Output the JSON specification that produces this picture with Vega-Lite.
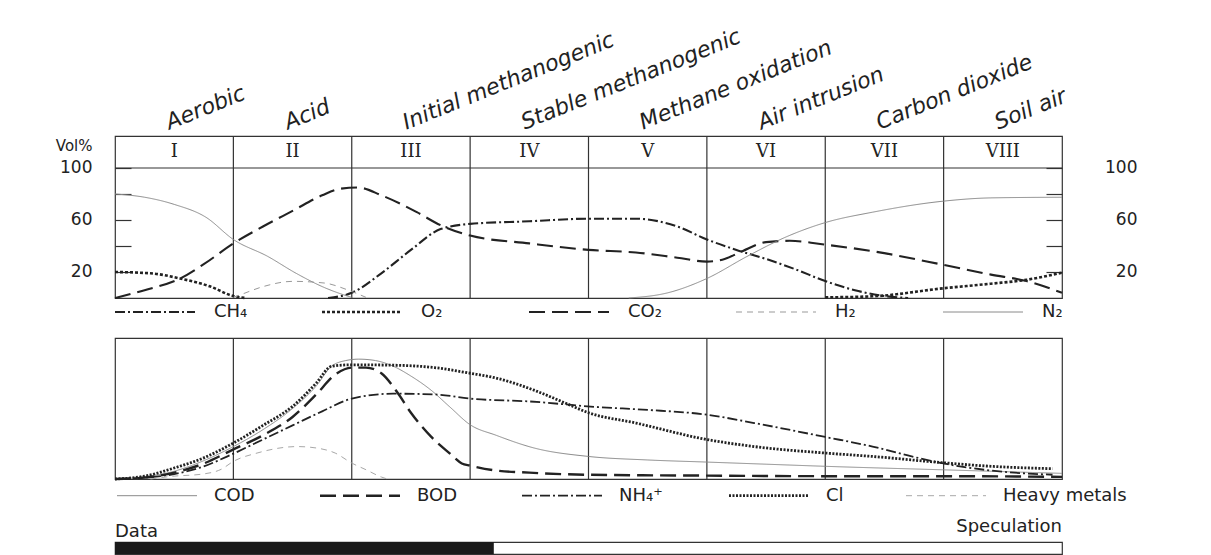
{
  "$schema": "https://vega.github.io/schema/vega-lite/v6.json",
  "padding": {"left": 54, "top": 24, "right": 8, "bottom": 0},
  "background": "white",
  "bounds": "flush",
  "spacing": 40,
  "config": {
    "font": "DejaVu Sans",
    "view": {"stroke": "#333", "strokeWidth": 1.2},
    "legend": {"padding": 0}
  },
  "datasets": {
    "phases": [
      {"num": "I", "name": "Aerobic", "c": 0.5},
      {"num": "II", "name": "Acid", "c": 1.5},
      {"num": "III", "name": "Initial methanogenic", "c": 2.5},
      {"num": "IV", "name": "Stable methanogenic", "c": 3.5},
      {"num": "V", "name": "Methane oxidation", "c": 4.5},
      {"num": "VI", "name": "Air intrusion", "c": 5.5},
      {"num": "VII", "name": "Carbon dioxide", "c": 6.5},
      {"num": "VIII", "name": "Soil air", "c": 7.5}
    ],
    "bounds": [{"t": 1}, {"t": 2}, {"t": 3}, {"t": 4}, {"t": 5}, {"t": 6}, {"t": 7}],
    "bar": [
      {"seg": "Data", "x0": 0, "x1": 3.2},
      {"seg": "Speculation", "x0": 3.2, "x1": 8}
    ],
    "gas": [
      {"gas": "CH₄", "t": 1.8, "v": 0}, {"gas": "CH₄", "t": 2.0, "v": 4}, {"gas": "CH₄", "t": 2.25, "v": 19}, {"gas": "CH₄", "t": 2.5, "v": 37}, {"gas": "CH₄", "t": 2.75, "v": 53}, {"gas": "CH₄", "t": 3.0, "v": 57}, {"gas": "CH₄", "t": 3.5, "v": 59}, {"gas": "CH₄", "t": 4.0, "v": 61}, {"gas": "CH₄", "t": 4.4, "v": 61}, {"gas": "CH₄", "t": 4.75, "v": 55}, {"gas": "CH₄", "t": 5.0, "v": 45}, {"gas": "CH₄", "t": 5.25, "v": 37}, {"gas": "CH₄", "t": 5.5, "v": 30}, {"gas": "CH₄", "t": 5.75, "v": 22}, {"gas": "CH₄", "t": 6.0, "v": 13}, {"gas": "CH₄", "t": 6.25, "v": 6}, {"gas": "CH₄", "t": 6.5, "v": 1.5}, {"gas": "CH₄", "t": 6.7, "v": 0},
      {"gas": "O₂", "t": 0, "v": 20}, {"gas": "O₂", "t": 0.3, "v": 19}, {"gas": "O₂", "t": 0.55, "v": 15}, {"gas": "O₂", "t": 0.8, "v": 9}, {"gas": "O₂", "t": 1.0, "v": 1.5}, {"gas": "O₂", "t": 1.1, "v": 0}, {"gas": "O₂", "t": 3.5, "v": null}, {"gas": "O₂", "t": 6.0, "v": 0.5}, {"gas": "O₂", "t": 6.4, "v": 1.3}, {"gas": "O₂", "t": 7.0, "v": 7.5}, {"gas": "O₂", "t": 7.4, "v": 11}, {"gas": "O₂", "t": 7.7, "v": 14}, {"gas": "O₂", "t": 8.0, "v": 19.5},
      {"gas": "CO₂", "t": 0, "v": 0}, {"gas": "CO₂", "t": 0.25, "v": 6}, {"gas": "CO₂", "t": 0.55, "v": 15}, {"gas": "CO₂", "t": 0.75, "v": 26}, {"gas": "CO₂", "t": 1.0, "v": 42}, {"gas": "CO₂", "t": 1.25, "v": 55}, {"gas": "CO₂", "t": 1.5, "v": 67}, {"gas": "CO₂", "t": 1.75, "v": 79}, {"gas": "CO₂", "t": 1.9, "v": 84}, {"gas": "CO₂", "t": 2.05, "v": 85}, {"gas": "CO₂", "t": 2.25, "v": 79}, {"gas": "CO₂", "t": 2.55, "v": 66}, {"gas": "CO₂", "t": 2.75, "v": 56}, {"gas": "CO₂", "t": 3.0, "v": 48}, {"gas": "CO₂", "t": 3.5, "v": 42}, {"gas": "CO₂", "t": 4.0, "v": 37}, {"gas": "CO₂", "t": 4.4, "v": 35}, {"gas": "CO₂", "t": 4.75, "v": 31}, {"gas": "CO₂", "t": 5.0, "v": 28}, {"gas": "CO₂", "t": 5.15, "v": 30}, {"gas": "CO₂", "t": 5.3, "v": 36}, {"gas": "CO₂", "t": 5.5, "v": 43}, {"gas": "CO₂", "t": 5.7, "v": 44}, {"gas": "CO₂", "t": 6.0, "v": 41}, {"gas": "CO₂", "t": 6.4, "v": 36}, {"gas": "CO₂", "t": 7.0, "v": 25.5}, {"gas": "CO₂", "t": 7.4, "v": 18}, {"gas": "CO₂", "t": 7.7, "v": 13}, {"gas": "CO₂", "t": 8.0, "v": 4},
      {"gas": "H₂", "t": 1.0, "v": 0.5}, {"gas": "H₂", "t": 1.06, "v": 2.5}, {"gas": "H₂", "t": 1.26, "v": 9}, {"gas": "H₂", "t": 1.5, "v": 12.8}, {"gas": "H₂", "t": 1.77, "v": 11.5}, {"gas": "H₂", "t": 1.96, "v": 6.4}, {"gas": "H₂", "t": 2.12, "v": 0.5},
      {"gas": "N₂", "t": 0, "v": 80}, {"gas": "N₂", "t": 0.25, "v": 77.5}, {"gas": "N₂", "t": 0.5, "v": 72}, {"gas": "N₂", "t": 0.77, "v": 62}, {"gas": "N₂", "t": 1.0, "v": 45}, {"gas": "N₂", "t": 1.29, "v": 32}, {"gas": "N₂", "t": 1.53, "v": 19}, {"gas": "N₂", "t": 1.77, "v": 8}, {"gas": "N₂", "t": 1.93, "v": 2.5}, {"gas": "N₂", "t": 2.0, "v": 0.5}, {"gas": "N₂", "t": 3.0, "v": null}, {"gas": "N₂", "t": 4.34, "v": 0}, {"gas": "N₂", "t": 4.67, "v": 4}, {"gas": "N₂", "t": 5.0, "v": 15}, {"gas": "N₂", "t": 5.34, "v": 32}, {"gas": "N₂", "t": 5.67, "v": 47}, {"gas": "N₂", "t": 6.0, "v": 58}, {"gas": "N₂", "t": 6.4, "v": 66}, {"gas": "N₂", "t": 7.0, "v": 74.5}, {"gas": "N₂", "t": 7.4, "v": 77}, {"gas": "N₂", "t": 8.0, "v": 77.5}
    ],
    "leach": [
      {"p": "COD", "t": 0, "v": 0}, {"p": "COD", "t": 0.25, "v": 1.5}, {"p": "COD", "t": 0.5, "v": 5.5}, {"p": "COD", "t": 0.75, "v": 13}, {"p": "COD", "t": 1.0, "v": 23}, {"p": "COD", "t": 1.25, "v": 35}, {"p": "COD", "t": 1.5, "v": 50}, {"p": "COD", "t": 1.7, "v": 66}, {"p": "COD", "t": 1.83, "v": 80}, {"p": "COD", "t": 1.95, "v": 84}, {"p": "COD", "t": 2.06, "v": 85}, {"p": "COD", "t": 2.2, "v": 84}, {"p": "COD", "t": 2.35, "v": 80}, {"p": "COD", "t": 2.5, "v": 73}, {"p": "COD", "t": 2.67, "v": 63}, {"p": "COD", "t": 2.83, "v": 51}, {"p": "COD", "t": 3.0, "v": 38.5}, {"p": "COD", "t": 3.22, "v": 31}, {"p": "COD", "t": 3.54, "v": 22}, {"p": "COD", "t": 4.0, "v": 16}, {"p": "COD", "t": 4.5, "v": 13.5}, {"p": "COD", "t": 5.0, "v": 12}, {"p": "COD", "t": 5.5, "v": 10.5}, {"p": "COD", "t": 6.0, "v": 9}, {"p": "COD", "t": 7.0, "v": 6.5}, {"p": "COD", "t": 8.0, "v": 4},
      {"p": "BOD", "t": 0, "v": 0}, {"p": "BOD", "t": 0.25, "v": 1}, {"p": "BOD", "t": 0.5, "v": 4.5}, {"p": "BOD", "t": 0.75, "v": 11}, {"p": "BOD", "t": 1.0, "v": 21}, {"p": "BOD", "t": 1.25, "v": 31}, {"p": "BOD", "t": 1.5, "v": 44}, {"p": "BOD", "t": 1.7, "v": 60}, {"p": "BOD", "t": 1.86, "v": 74}, {"p": "BOD", "t": 2.0, "v": 79}, {"p": "BOD", "t": 2.12, "v": 79}, {"p": "BOD", "t": 2.25, "v": 75}, {"p": "BOD", "t": 2.38, "v": 62}, {"p": "BOD", "t": 2.5, "v": 47}, {"p": "BOD", "t": 2.67, "v": 30}, {"p": "BOD", "t": 2.83, "v": 18}, {"p": "BOD", "t": 2.93, "v": 11}, {"p": "BOD", "t": 3.0, "v": 9.5}, {"p": "BOD", "t": 3.22, "v": 6}, {"p": "BOD", "t": 3.5, "v": 4.5}, {"p": "BOD", "t": 4.0, "v": 3}, {"p": "BOD", "t": 5.0, "v": 2.4}, {"p": "BOD", "t": 6.0, "v": 2}, {"p": "BOD", "t": 7.0, "v": 2}, {"p": "BOD", "t": 8.0, "v": 1.5},
      {"p": "NH₄⁺", "t": 0, "v": 0}, {"p": "NH₄⁺", "t": 0.25, "v": 1}, {"p": "NH₄⁺", "t": 0.5, "v": 3.5}, {"p": "NH₄⁺", "t": 0.75, "v": 9}, {"p": "NH₄⁺", "t": 1.0, "v": 18}, {"p": "NH₄⁺", "t": 1.25, "v": 28}, {"p": "NH₄⁺", "t": 1.5, "v": 38}, {"p": "NH₄⁺", "t": 1.75, "v": 48}, {"p": "NH₄⁺", "t": 2.0, "v": 57}, {"p": "NH₄⁺", "t": 2.35, "v": 60.5}, {"p": "NH₄⁺", "t": 2.7, "v": 60}, {"p": "NH₄⁺", "t": 3.0, "v": 57}, {"p": "NH₄⁺", "t": 3.5, "v": 55}, {"p": "NH₄⁺", "t": 4.08, "v": 51}, {"p": "NH₄⁺", "t": 4.5, "v": 49}, {"p": "NH₄⁺", "t": 5.0, "v": 45.6}, {"p": "NH₄⁺", "t": 5.4, "v": 39.7}, {"p": "NH₄⁺", "t": 6.0, "v": 29.8}, {"p": "NH₄⁺", "t": 6.4, "v": 23}, {"p": "NH₄⁺", "t": 6.73, "v": 16}, {"p": "NH₄⁺", "t": 7.0, "v": 11}, {"p": "NH₄⁺", "t": 7.4, "v": 6}, {"p": "NH₄⁺", "t": 7.92, "v": 3},
      {"p": "Cl", "t": 0, "v": 0}, {"p": "Cl", "t": 0.25, "v": 2}, {"p": "Cl", "t": 0.5, "v": 7.8}, {"p": "Cl", "t": 0.75, "v": 15}, {"p": "Cl", "t": 1.0, "v": 25.5}, {"p": "Cl", "t": 1.25, "v": 38}, {"p": "Cl", "t": 1.5, "v": 51.5}, {"p": "Cl", "t": 1.7, "v": 68}, {"p": "Cl", "t": 1.83, "v": 80}, {"p": "Cl", "t": 2.0, "v": 81}, {"p": "Cl", "t": 2.4, "v": 80.6}, {"p": "Cl", "t": 2.7, "v": 79}, {"p": "Cl", "t": 3.0, "v": 75}, {"p": "Cl", "t": 3.22, "v": 71.6}, {"p": "Cl", "t": 3.54, "v": 63}, {"p": "Cl", "t": 3.8, "v": 54}, {"p": "Cl", "t": 4.0, "v": 47}, {"p": "Cl", "t": 4.4, "v": 39.7}, {"p": "Cl", "t": 5.0, "v": 28}, {"p": "Cl", "t": 5.4, "v": 23}, {"p": "Cl", "t": 6.0, "v": 18.4}, {"p": "Cl", "t": 6.4, "v": 16}, {"p": "Cl", "t": 7.0, "v": 11.5}, {"p": "Cl", "t": 7.4, "v": 9}, {"p": "Cl", "t": 7.92, "v": 7.3},
      {"p": "Heavy metals", "t": 0.3, "v": 0}, {"p": "Heavy metals", "t": 0.48, "v": 1.9}, {"p": "Heavy metals", "t": 0.74, "v": 3.5}, {"p": "Heavy metals", "t": 0.9, "v": 7}, {"p": "Heavy metals", "t": 1.0, "v": 12.5}, {"p": "Heavy metals", "t": 1.2, "v": 18.4}, {"p": "Heavy metals", "t": 1.54, "v": 23}, {"p": "Heavy metals", "t": 1.7, "v": 22}, {"p": "Heavy metals", "t": 1.86, "v": 18.4}, {"p": "Heavy metals", "t": 2.0, "v": 11.3}, {"p": "Heavy metals", "t": 2.12, "v": 6.6}, {"p": "Heavy metals", "t": 2.25, "v": 1.4}, {"p": "Heavy metals", "t": 2.3, "v": 0}
    ]
  },
  "resolve": {
    "scale": {"color": "independent", "strokeDash": "independent"},
    "legend": {"color": "independent", "strokeDash": "independent"}
  },
  "vconcat": [
    {
      "width": 947,
      "height": 162,
      "resolve": {"scale": {"y": "independent"}},
      "layer": [
        {
          "data": {"name": "bounds"},
          "mark": {"type": "rule", "color": "#333", "strokeWidth": 1.2},
          "encoding": {
            "x": {"field": "t", "type": "quantitative", "scale": {"domain": [0, 8], "nice": false}, "axis": null}
          }
        },
        {
          "data": {"values": [{"level": 100}]},
          "mark": {"type": "rule", "color": "#333", "strokeWidth": 1.2},
          "encoding": {
            "y": {
              "field": "level", "type": "quantitative",
              "scale": {"domain": [0, 124.6], "nice": false},
              "axis": {
                "orient": "right", "values": [20, 40, 60, 80, 100],
                "labelExpr": "(datum.value == 40 || datum.value == 80) ? '' : datum.label",
                "tickSize": -16, "tickColor": "#333", "tickWidth": 1.2,
                "labelPadding": 91, "labelAlign": "right",
                "labelFont": "DejaVu Sans", "labelFontSize": 17, "labelColor": "#222",
                "labelFlush": false, "labelOverlap": false,
                "domain": false, "grid": false, "title": null
              }
            }
          }
        },
        {
          "data": {"name": "gas"},
          "mark": {"type": "line", "interpolate": "monotone", "invalid": "break-paths-filter-domains"},
          "encoding": {
            "x": {"field": "t", "type": "quantitative", "scale": {"domain": [0, 8], "nice": false}, "axis": null},
            "y": {
              "field": "v", "type": "quantitative",
              "scale": {"domain": [0, 124.6], "nice": false},
              "axis": {
                "orient": "left", "values": [20, 40, 60, 80, 100],
                "labelExpr": "(datum.value == 40 || datum.value == 80) ? '' : datum.label",
                "tickSize": -16, "tickColor": "#333", "tickWidth": 1.2,
                "labelPadding": 39,
                "labelFont": "DejaVu Sans", "labelFontSize": 17, "labelColor": "#222",
                "labelFlush": false, "labelOverlap": false,
                "domain": false, "grid": false,
                "title": "Vol%", "titleAngle": 0, "titleAlign": "right", "titleBaseline": "middle",
                "titleX": -23, "titleY": 9, "titleFont": "DejaVu Sans", "titleFontSize": 15,
                "titleFontWeight": "normal", "titleColor": "#222"
              }
            },
            "color": {
              "field": "gas", "type": "nominal",
              "scale": {"domain": ["CH₄", "O₂", "CO₂", "H₂", "N₂"], "range": ["#222222", "#222222", "#222222", "#999999", "#8a8a8a"]},
              "legend": {
                "orient": "none", "legendX": -1, "legendY": 135, "direction": "horizontal", "columns": 5,
                "title": null, "symbolType": "stroke", "symbolSize": 6400, "symbolStrokeWidth": 2,
                "labelFont": "DejaVu Sans", "labelFontSize": 18, "labelColor": "#222", "labelOffset": 18,
                "columnPadding": 68, "gridAlign": "all", "padding": 0,
                "encode": {"symbols": {"update": {"strokeWidth": {"signal": "((datum.value == 'H₂' || datum.value == 'N₂') ? 1 : (datum.value == 'O₂' ? 2.6 : 2))"}}}}
              }
            },
            "strokeDash": {
              "field": "gas", "type": "nominal",
              "scale": {"domain": ["CH₄", "O₂", "CO₂", "H₂", "N₂"], "range": [[10, 3, 2, 3], [3, 2], [16, 7], [6, 5], [1, 0]]},
              "legend": {
                "orient": "none", "legendX": -1, "legendY": 135, "direction": "horizontal", "columns": 5,
                "title": null, "symbolType": "stroke", "symbolSize": 6400, "symbolStrokeWidth": 2,
                "labelFont": "DejaVu Sans", "labelFontSize": 18, "labelColor": "#222", "labelOffset": 18,
                "columnPadding": 68, "gridAlign": "all", "padding": 0,
                "encode": {"symbols": {"update": {"strokeWidth": {"signal": "((datum.value == 'H₂' || datum.value == 'N₂') ? 1 : (datum.value == 'O₂' ? 2.6 : 2))"}}}}
              }
            },
            "strokeWidth": {
              "condition": [
                {"test": "datum.gas == 'H₂' || datum.gas == 'N₂'", "value": 1},
                {"test": "datum.gas == 'O₂'", "value": 2.6}
              ],
              "value": 2.1
            }
          }
        },
        {
          "data": {"name": "phases"},
          "mark": {"type": "text", "font": "DejaVu Serif", "fontSize": 18, "color": "#222", "baseline": "middle", "align": "center"},
          "encoding": {
            "x": {"field": "c", "type": "quantitative", "scale": {"domain": [0, 8], "nice": false}, "axis": null},
            "y": {"datum": 112.3, "type": "quantitative", "scale": {"domain": [0, 124.6], "nice": false}, "axis": null},
            "text": {"field": "num"}
          }
        },
        {
          "data": {"name": "phases"},
          "mark": {"type": "text", "font": "DejaVu Sans", "fontSize": 22, "fontStyle": "italic", "color": "#222", "baseline": "alphabetic", "align": "left", "angle": -22, "dx": -5},
          "encoding": {
            "x": {"field": "c", "type": "quantitative", "scale": {"domain": [0, 8], "nice": false}, "axis": null},
            "y": {"datum": 130.8, "type": "quantitative", "scale": {"domain": [0, 124.6], "nice": false}, "axis": null},
            "text": {"field": "name"}
          }
        }
      ]
    },
    {
      "bounds": "flush",
      "spacing": 63,
      "vconcat": [
        {
          "width": 947,
          "height": 141,
          "layer": [
            {
              "data": {"name": "bounds"},
              "mark": {"type": "rule", "color": "#333", "strokeWidth": 1.2},
              "encoding": {
                "x": {"field": "t", "type": "quantitative", "scale": {"domain": [0, 8], "nice": false}, "axis": null}
              }
            },
            {
              "data": {"name": "leach"},
              "mark": {"type": "line", "interpolate": "monotone"},
              "encoding": {
                "x": {"field": "t", "type": "quantitative", "scale": {"domain": [0, 8], "nice": false}, "axis": null},
                "y": {"field": "v", "type": "quantitative", "scale": {"domain": [0, 100], "nice": false}, "axis": null},
                "color": {
                  "field": "p", "type": "nominal",
                  "scale": {"domain": ["COD", "BOD", "NH₄⁺", "Cl", "Heavy metals"], "range": ["#8a8a8a", "#222222", "#222222", "#222222", "#a8a8a8"]},
                  "legend": {
                    "orient": "none", "legendX": 1, "legendY": 116.7, "direction": "horizontal", "columns": 5,
                    "title": null, "symbolType": "stroke", "symbolSize": 6400, "symbolStrokeWidth": 2,
                    "labelFont": "DejaVu Sans", "labelFontSize": 18, "labelColor": "#222", "labelOffset": 16,
                    "columnPadding": 60, "gridAlign": "each", "padding": 0,
                    "encode": {"symbols": {"update": {"strokeWidth": {"signal": "((datum.value == 'COD' || datum.value == 'Heavy metals') ? 1 : (datum.value == 'Cl' ? 2.8 : (datum.value == 'BOD' ? 2.4 : 1.8)))"}}}}
                  }
                },
                "strokeDash": {
                  "field": "p", "type": "nominal",
                  "scale": {"domain": ["COD", "BOD", "NH₄⁺", "Cl", "Heavy metals"], "range": [[1, 0], [16, 7], [10, 3, 2, 3], [2, 1.5], [6, 5]]},
                  "legend": {
                    "orient": "none", "legendX": 1, "legendY": 116.7, "direction": "horizontal", "columns": 5,
                    "title": null, "symbolType": "stroke", "symbolSize": 6400, "symbolStrokeWidth": 2,
                    "labelFont": "DejaVu Sans", "labelFontSize": 18, "labelColor": "#222", "labelOffset": 16,
                    "columnPadding": 60, "gridAlign": "each", "padding": 0,
                    "encode": {"symbols": {"update": {"strokeWidth": {"signal": "((datum.value == 'COD' || datum.value == 'Heavy metals') ? 1 : (datum.value == 'Cl' ? 2.8 : (datum.value == 'BOD' ? 2.4 : 1.8)))"}}}}
                  }
                },
                "strokeWidth": {
                  "condition": [
                    {"test": "datum.p == 'COD' || datum.p == 'Heavy metals'", "value": 1},
                    {"test": "datum.p == 'Cl'", "value": 2.8},
                    {"test": "datum.p == 'BOD'", "value": 2.4}
                  ],
                  "value": 1.8
                }
              }
            }
          ]
        },
        {
          "width": 947,
          "height": 12,
          "data": {"name": "bar"},
          "layer": [
            {
              "transform": [{"filter": "datum.seg == 'Data'"}],
              "mark": {"type": "rect", "color": "#1a1a1a"},
              "encoding": {
                "x": {"field": "x0", "type": "quantitative", "scale": {"domain": [0, 8], "nice": false}, "axis": null},
                "x2": {"field": "x1"}
              }
            },
            {
              "transform": [{"filter": "datum.seg == 'Data'"}],
              "mark": {"type": "text", "align": "left", "baseline": "alphabetic", "dy": -11, "fontSize": 18, "color": "#222", "font": "DejaVu Sans"},
              "encoding": {
                "x": {"field": "x0", "type": "quantitative", "scale": {"domain": [0, 8], "nice": false}, "axis": null},
                "text": {"field": "seg"}
              }
            },
            {
              "transform": [{"filter": "datum.seg == 'Speculation'"}],
              "mark": {"type": "text", "align": "right", "baseline": "alphabetic", "dy": -16, "fontSize": 18, "color": "#222", "font": "DejaVu Sans"},
              "encoding": {
                "x": {"field": "x1", "type": "quantitative", "scale": {"domain": [0, 8], "nice": false}, "axis": null},
                "text": {"field": "seg"}
              }
            }
          ]
        }
      ]
    }
  ]
}
